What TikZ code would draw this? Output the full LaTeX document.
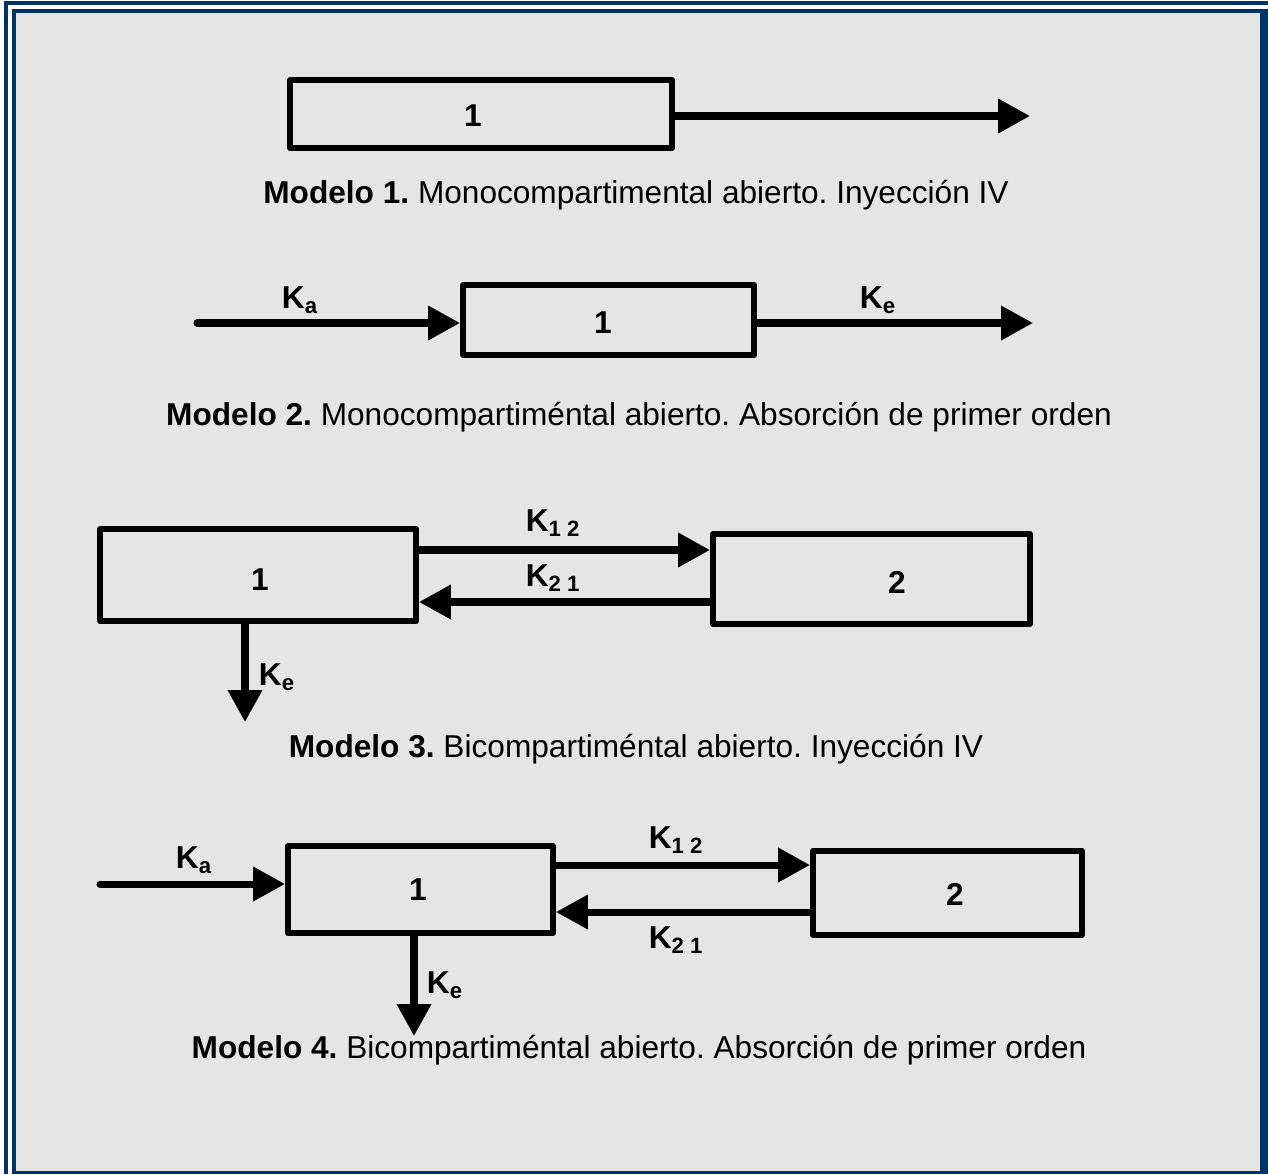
\documentclass[tikz,border=0pt]{standalone}
\usepackage{fontspec}
\setmainfont{Liberation Sans}
\usetikzlibrary{arrows.meta}
\frenchspacing

\definecolor{marco}{HTML}{003366}
\definecolor{fondo}{HTML}{E5E5E5}

\tikzset{
  compart/.style={draw,line width=3.4pt,line join=round,inner sep=0pt},
  flujo/.style={line width=4pt,line cap=round,-{Triangle[length=0.64cm,width=0.66cm]}},
  num/.style={font=\bfseries\fontsize{18}{21}\selectfont},
  kte/.style={font=\bfseries\fontsize{18}{21}\selectfont,inner sep=1pt},
  pie/.style={font=\fontsize{18}{21}\selectfont}
}

\begin{document}
\begin{tikzpicture}[x=0.02cm,y=-0.02cm]
\useasboundingbox (0,0) rectangle (1268,1174);

% marco doble
\fill[white] (0,0) rectangle (1268,1174);
\fill[marco] (4,1) rectangle (8,1174);
\fill[marco] (4,1) rectangle (1268,5);
\fill[marco] (12,9) rectangle (1268,1174);
\fill[fondo] (16,13) rectangle (1260,1171);

% Modelo 1
\node[compart,minimum width=7.64cm,minimum height=1.36cm] (m1) at (481,114) {};
\node[num] (m1n) at (473,116) {1};
\coordinate (m1fin) at (1030,116);
\draw[flujo] (m1fin -| m1.east) -- (m1fin);
\node[pie] (p1) at (636,195) {\textbf{Modelo 1.} Monocompartimental abierto. Inyección IV};

% Modelo 2
\node[compart,minimum width=5.82cm,minimum height=1.4cm] (m2) at (608.5,320) {};
\node[num] (m2n) at (603,323) {1};
\coordinate (m2ini) at (197,323);
\coordinate (m2fin) at (1033,323);
\draw[flujo] (m2ini) -- (m2ini -| m2.west);
\draw[flujo] (m2fin -| m2.east) -- (m2fin);
\node[kte] (m2ka) at (300,300) {K\textsubscript{a}};
\node[kte] (m2ke) at (878,300) {K\textsubscript{e}};
\node[pie] (p2) at (639,417) {\textbf{Modelo 2.} Monocompartiméntal abierto. Absorción de primer orden};

% Modelo 3
\node[compart,minimum width=6.32cm,minimum height=1.84cm] (m3a) at (258,575) {};
\node[compart,minimum width=6.34cm,minimum height=1.8cm] (m3b) at (871.5,579) {};
\node[num] (m3n1) at (260,580) {1};
\node[num] (m3n2) at (897,582) {2};
\coordinate (m3ida) at (0,550);
\coordinate (m3vuelta) at (0,602);
\coordinate (m3sal) at (245,722);
\draw[flujo] (m3ida -| m3a.east) -- (m3ida -| m3b.west);
\draw[flujo] (m3vuelta -| m3b.west) -- (m3vuelta -| m3a.east);
\draw[flujo] (m3sal |- m3a.south) -- (m3sal);
\node[kte] (m3k12) at (553,523) {K\textsubscript{1 2}};
\node[kte] (m3k21) at (553,578) {K\textsubscript{2 1}};
\node[kte] (m3ke) at (277,677) {K\textsubscript{e}};
\node[pie] (p3) at (636,749) {\textbf{Modelo 3.} Bicompartiméntal abierto. Inyección IV};

% Modelo 4
\node[compart,minimum width=5.3cm,minimum height=1.74cm] (m4a) at (420.5,889.5) {};
\node[compart,minimum width=5.38cm,minimum height=1.68cm] (m4b) at (947.5,893) {};
\node[num] (m4n1) at (418,890) {1};
\node[num] (m4n2) at (955,894) {2};
\coordinate (m4ini) at (100,884);
\coordinate (m4ida) at (0,865);
\coordinate (m4vuelta) at (0,912);
\coordinate (m4sal) at (414,1036);
\draw[flujo] (m4ini) -- (m4ini -| m4a.west);
\draw[flujo] (m4ida -| m4a.east) -- (m4ida -| m4b.west);
\draw[flujo] (m4vuelta -| m4b.west) -- (m4vuelta -| m4a.east);
\draw[flujo] (m4sal |- m4a.south) -- (m4sal);
\node[kte] (m4ka) at (194,860) {K\textsubscript{a}};
\node[kte] (m4k12) at (676,840) {K\textsubscript{1 2}};
\node[kte] (m4k21) at (676,940) {K\textsubscript{2 1}};
\node[kte] (m4ke) at (445,985) {K\textsubscript{e}};
\node[pie] (p4) at (639,1050) {\textbf{Modelo 4.} Bicompartiméntal abierto. Absorción de primer orden};

\end{tikzpicture}
\end{document}
